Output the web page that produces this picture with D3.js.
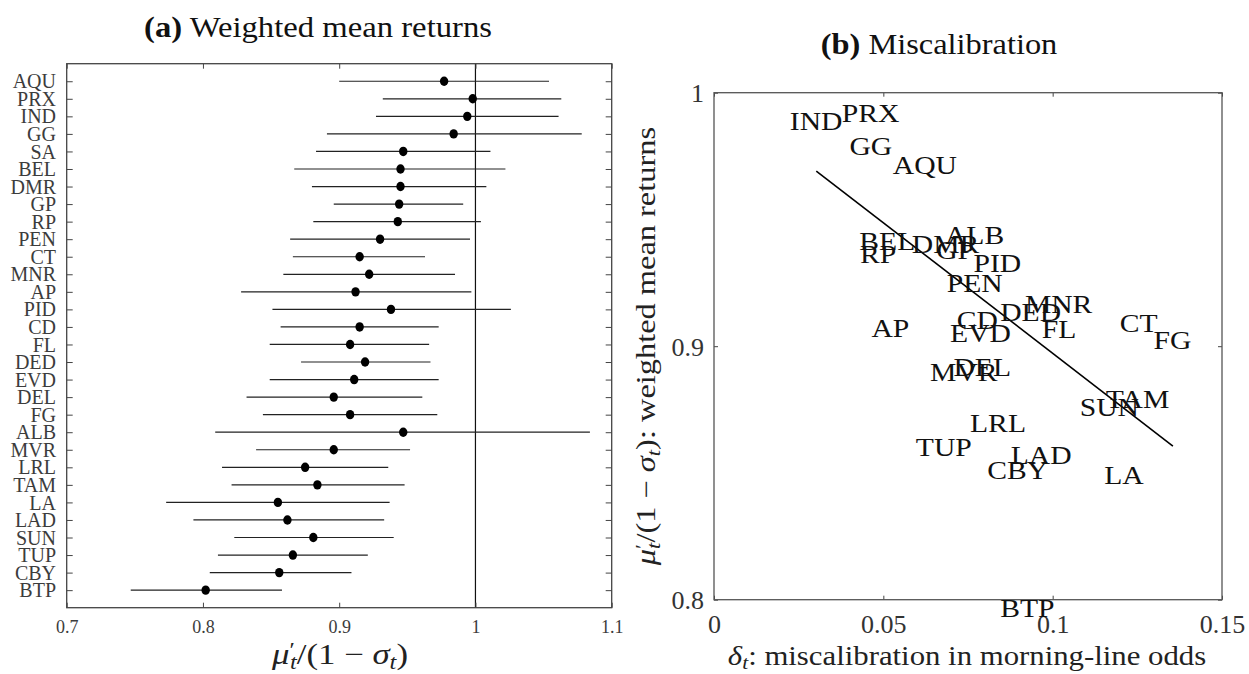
<!DOCTYPE html>
<html>
<head>
<meta charset="utf-8">
<script src="https://cdn.jsdelivr.net/npm/d3@7"></script>
<style>
  html, body { margin: 0; padding: 0; background: #fff; }
  svg { display: block; }
  text { font-family: "Liberation Serif", "Times New Roman", serif; }
</style>
</head>
<body>
<svg id="fig" width="1249" height="674"></svg>
<script>
// ---- Panel (a): weighted mean returns with confidence intervals ----
const tracks = ["AQU","PRX","IND","GG","SA","BEL","DMR","GP","RP","PEN","CT","MNR","AP","PID","CD","FL","DED","EVD","DEL","FG","ALB","MVR","LRL","TAM","LA","LAD","SUN","TUP","CBY","BTP"];
const meanReturn = [0.977,0.998,0.994,0.984,0.947,0.945,0.945,0.944,0.943,0.930,0.915,0.922,0.912,0.938,0.915,0.908,0.919,0.911,0.896,0.908,0.947,0.896,0.875,0.884,0.855,0.862,0.881,0.866,0.856,0.802];
const ciLow  = [0.900,0.932,0.927,0.891,0.883,0.867,0.880,0.896,0.881,0.864,0.866,0.859,0.828,0.851,0.857,0.849,0.872,0.849,0.832,0.844,0.809,0.839,0.814,0.821,0.773,0.793,0.823,0.811,0.805,0.747];
const ciHigh = [1.054,1.063,1.061,1.078,1.011,1.022,1.008,0.991,1.004,0.996,0.963,0.985,0.997,1.026,0.973,0.966,0.967,0.973,0.961,0.972,1.084,0.952,0.936,0.948,0.937,0.933,0.940,0.921,0.909,0.858];
const leftTicks = [0.7,0.8,0.9,1,1.1];
const leftTickLabels = ["0.7","0.8","0.9","1","1.1"];
const referenceValue = 1;

// ---- Panel (b): miscalibration vs weighted mean returns ----
const scatterTracks = ["IND","PRX","GG","AQU","BEL","RP","DMR","GP","ALB","PID","PEN","MNR","DED","CD","EVD","FL","AP","CT","FG","MVR","DEL","TAM","SUN","LRL","TUP","LAD","CBY","LA","BTP"];
const miscalibration = [0.0224,0.0377,0.0400,0.0528,0.0429,0.0431,0.0584,0.0656,0.0682,0.0766,0.0687,0.0918,0.0845,0.0717,0.0697,0.0968,0.0465,0.1198,0.1298,0.0638,0.0707,0.1157,0.1080,0.0756,0.0596,0.0876,0.0807,0.1152,0.0845];
const scatterReturn = [0.9886,0.9917,0.9788,0.9714,0.9412,0.9364,0.9403,0.9379,0.9436,0.9328,0.9247,0.9165,0.9134,0.9102,0.9051,0.9068,0.9072,0.9088,0.9023,0.8898,0.8915,0.8789,0.8760,0.8694,0.8602,0.8570,0.8510,0.8492,0.7965];
const fitDelta = [0.0302, 0.1355];
const fitReturn = [0.9691, 0.8606];
const rightXTicks = [0, 0.05, 0.1, 0.15];
const rightXTickLabels = ["0","0.05","0.1","0.15"];
const rightYTicks = [0.8, 0.9, 1];
const rightYTickLabels = ["0.8","0.9","1"];

const svg = d3.select("#fig");
svg.append("rect").attr("width",1249).attr("height",674).attr("fill","#fff");

// helper: math-like label made of tspans
function mathLabel(sel, parts) {
  parts.forEach(p => {
    const ts = sel.append("tspan").text(p.t);
    if (p.i) ts.attr("font-style","italic");
    if (p.sub) ts.attr("baseline-shift","-22%").attr("font-size","70%");
    if (p.sup) ts.attr("baseline-shift","35%").attr("font-size","70%");
    if (p.dx) ts.attr("dx", p.dx);
  });
}
// text placed at (x, y) and widened horizontally (serif text set a little wide)
function wideText(g, x, y, sx, rot) {
  return g.append("text")
    .attr("transform", `translate(${x},${y})` + (rot ? ` rotate(${rot})` : "") + ` scale(${sx},1)`);
}
const retParts = [
  {t:"μ", i:true}, {t:"′", sup:true}, {t:"t", sub:true, i:true, dx:-4},
  {t:"/(1 − "}, {t:"σ", i:true}, {t:"t", sub:true, i:true}, {t:")"}
];

// ================= Panel (a) =================
const ax = d3.scaleLinear().domain([0.7,1.1]).range([66.7,611.7]);
const ay = d3.scaleLinear().domain([0,31]).range([63.7,607.7]);
const leftColor = "#3c3c3c";

const gA = svg.append("g");

// title
const tA = wideText(gA, 318, 37, 1.09).attr("text-anchor","middle")
  .attr("font-size",30).attr("fill","#111");
tA.append("tspan").attr("font-weight","bold").text("(a)");
tA.append("tspan").text(" Weighted mean returns");

// reference line at 1
gA.append("line")
  .attr("x1",ax(referenceValue)).attr("x2",ax(referenceValue))
  .attr("y1",ay(0)).attr("y2",ay(31))
  .attr("stroke","#111").attr("stroke-width",1.2);

// axes
const axBottom = d3.axisBottom(ax).tickValues(leftTicks)
  .tickFormat((d,i)=>leftTickLabels[i]).tickSizeInner(-5).tickSizeOuter(0).tickPadding(13);
const gxa = gA.append("g").attr("transform",`translate(0,${ay(31)})`).call(axBottom);
const gxt = gA.append("g").attr("transform",`translate(0,${ay(0)})`)
  .call(d3.axisTop(ax).tickValues(leftTicks).tickFormat("").tickSizeInner(-5).tickSizeOuter(0));
const rowIdx = tracks.map((_,i)=>i+1);
const gyl = gA.append("g").attr("transform",`translate(${ax(0.7)},0)`)
  .call(d3.axisLeft(ay).tickValues(rowIdx).tickFormat((d)=>tracks[d-1]).tickSizeInner(-6).tickSizeOuter(0).tickPadding(10.7));
const gyr = gA.append("g").attr("transform",`translate(${ax(1.1)},0)`)
  .call(d3.axisRight(ay).tickValues(rowIdx).tickFormat("").tickSizeInner(-6).tickSizeOuter(0));
[gxa,gxt,gyl,gyr].forEach(g=>{
  g.select(".domain").remove();
  g.selectAll(".tick line").attr("stroke","#444").attr("stroke-width",1);
  g.selectAll(".tick text").attr("fill",leftColor).attr("font-family",null);
});
gxa.selectAll(".tick text").attr("font-size",18);
gyl.selectAll(".tick text").attr("font-size",20).attr("dy","0.33em");

// box
gA.append("rect").attr("x",ax(0.7)).attr("y",ay(0))
  .attr("width",ax(1.1)-ax(0.7)).attr("height",ay(31)-ay(0))
  .attr("fill","none").attr("stroke","#444").attr("stroke-width",1.3);

// error bars and means
gA.selectAll("line.ci").data(tracks).join("line").attr("class","ci")
  .attr("x1",(d,i)=>ax(ciLow[i])).attr("x2",(d,i)=>ax(ciHigh[i]))
  .attr("y1",(d,i)=>ay(i+1)).attr("y2",(d,i)=>ay(i+1))
  .attr("stroke","#222").attr("stroke-width",1.2);
gA.selectAll("ellipse.mean").data(tracks).join("ellipse").attr("class","mean")
  .attr("cx",(d,i)=>ax(meanReturn[i])).attr("cy",(d,i)=>ay(i+1))
  .attr("rx",4.2).attr("ry",4.7).attr("fill","#000");

// x label
const xlA = wideText(gA, 340, 664, 1.2).attr("text-anchor","middle")
  .attr("font-size",29).attr("fill","#222");
mathLabel(xlA, retParts);

// ================= Panel (b) =================
const bx = d3.scaleLinear().domain([0,0.15]).range([714,1222]);
const by = d3.scaleLinear().domain([0.8,1]).range([599.7,92.7]);
const gB = svg.append("g");

const tB = wideText(gB, 939, 54, 1.08).attr("text-anchor","middle")
  .attr("font-size",30).attr("fill","#111");
tB.append("tspan").attr("font-weight","bold").text("(b)");
tB.append("tspan").text(" Miscalibration");

const gbx = gB.append("g").attr("transform",`translate(0,${by(0.8)})`)
  .call(d3.axisBottom(bx).tickValues(rightXTicks).tickFormat((d,i)=>rightXTickLabels[i])
    .tickSizeInner(-4).tickSizeOuter(0).tickPadding(14.5));
const gbt = gB.append("g").attr("transform",`translate(0,${by(1)})`)
  .call(d3.axisTop(bx).tickValues(rightXTicks).tickFormat("").tickSizeInner(-4).tickSizeOuter(0));
const gbl = gB.append("g").attr("transform",`translate(${bx(0)},0)`)
  .call(d3.axisLeft(by).tickValues(rightYTicks).tickFormat((d,i)=>rightYTickLabels[i])
    .tickSizeInner(-4).tickSizeOuter(0).tickPadding(10));
const gbr = gB.append("g").attr("transform",`translate(${bx(0.15)},0)`)
  .call(d3.axisRight(by).tickValues(rightYTicks).tickFormat("").tickSizeInner(-4).tickSizeOuter(0));
[gbx,gbt,gbl,gbr].forEach(g=>{
  g.select(".domain").remove();
  g.selectAll(".tick line").attr("stroke","#444").attr("stroke-width",1);
  g.selectAll(".tick text").attr("fill","#333").attr("font-family",null).attr("font-size",26);
});
gbl.selectAll(".tick text").attr("dy","0.34em");

gB.append("rect").attr("x",bx(0)).attr("y",by(1))
  .attr("width",bx(0.15)-bx(0)).attr("height",by(0.8)-by(1))
  .attr("fill","none").attr("stroke","#555").attr("stroke-width",1.3);

// fitted line
gB.append("line")
  .attr("x1",bx(fitDelta[0])).attr("y1",by(fitReturn[0]))
  .attr("x2",bx(fitDelta[1])).attr("y2",by(fitReturn[1]))
  .attr("stroke","#000").attr("stroke-width",1.6);

// track labels
gB.selectAll("text.trk").data(scatterTracks).join("text").attr("class","trk")
  .attr("transform",(d,i)=>`translate(${bx(miscalibration[i])},${by(scatterReturn[i])}) scale(1.14,1)`)
  .attr("dy","0.33em").attr("font-size",26).attr("fill","#111")
  .text(d=>d);

// axis labels
const xlB = wideText(gB, 967, 665, 1.14).attr("text-anchor","middle")
  .attr("font-size",27).attr("fill","#222");
mathLabel(xlB, [{t:"δ", i:true},{t:"t", sub:true, i:true},{t:": miscalibration in morning-line odds"}]);

const ylB = wideText(gB, 655, by(0.9), 1.2, -90)
  .attr("text-anchor","middle").attr("font-size",27).attr("fill","#222");
mathLabel(ylB, retParts.concat([{t:": weighted mean returns"}]));
</script>
</body>
</html>
